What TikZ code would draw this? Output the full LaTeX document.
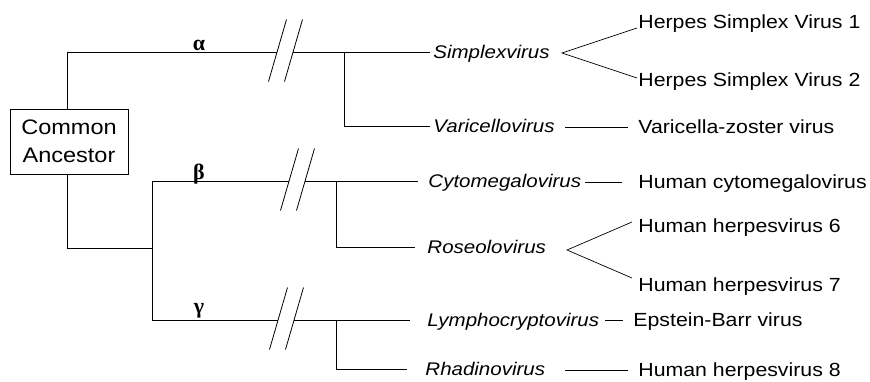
\documentclass[tikz,border=0pt]{standalone}
\usepackage{fontspec}
\setmainfont{Liberation Sans}[FakeStretch=1.12]
\newfontfamily\greekfont{Liberation Serif}
\begin{document}
\begin{tikzpicture}[x=1pt,y=-1pt,line width=0.9pt,
  lbl/.style={font=\fontsize{19}{22}\selectfont,anchor=west,inner xsep=3pt,inner ysep=0pt,text height=13.6pt,text depth=0pt},
  genus/.style={lbl,font=\fontsize{18.3}{22}\selectfont\itshape},
  greek/.style={font=\fontsize{22}{24}\selectfont\greekfont\bfseries,inner sep=0pt},
  ancbox/.style={draw,minimum width=118pt,minimum height=65pt,align=center,inner sep=0pt,font=\fontsize{21}{28}\selectfont},
  slash/.style={line width=0.8pt}]
\useasboundingbox (0,0) rectangle (870,381);

% root
\node[ancbox] (ca) at (69,141.5) {Common\\Ancestor};

% genus names
\node[genus] (simplex)   at (430,52)  {Simplexvirus};
\node[genus] (varicello) at (430,126) {Varicellovirus};
\node[genus] (cyto)      at (425,181) {Cytomegalovirus};
\node[genus] (roseolo)   at (424,247) {Roseolovirus};
\node[genus] (lympho)    at (424,320) {Lymphocryptovirus};
\node[genus] (rhadino)   at (422,369) {Rhadinovirus};

% species names
\node[lbl] (hsv1) at (635,22)  {Herpes Simplex Virus 1};
\node[lbl] (hsv2) at (635,80)  {Herpes Simplex Virus 2};
\node[lbl] (vzv)  at (635,127) {Varicella-zoster virus};
\node[lbl] (hcmv) at (635,182) {Human cytomegalovirus};
\node[lbl] (hhv6) at (635,226) {Human herpesvirus 6};
\node[lbl] (hhv7) at (635,285) {Human herpesvirus 7};
\node[lbl] (ebv)  at (630,320) {Epstein-Barr virus};
\node[lbl] (hhv8) at (635,370) {Human herpesvirus 8};

% subfamily labels
\node[greek,anchor=base]  (alpha) at (199,50)  {α};
\node[greek,anchor=base]  (beta)  at (199,179) {β};
\node[greek,anchor=south] (gamma) at (199,319) {γ};

% junction points of the tree
\coordinate (ra) at (67,52);
\coordinate (rb) at (67,248);
\coordinate (aL) at (277,52);
\coordinate (aR) at (293,52);
\coordinate (aj) at (344,52);
\coordinate (ak) at (344,126);
\coordinate (bt) at (152,181);
\coordinate (gb) at (152,320);
\coordinate (bL) at (289,181);
\coordinate (bR) at (305,181);
\coordinate (bj) at (336,181);
\coordinate (bk) at (336,247);
\coordinate (gL) at (278,320);
\coordinate (gR) at (294,320);
\coordinate (gj) at (336,320);
\coordinate (gk) at (336,369);

% alpha branch
\draw (ca.north -| ra) -- (ra) -- (aL);
\draw (aR) -- (simplex.west);
\draw (aj) -- (ak) -- (varicello.west);

% beta and gamma branches
\draw (ca.south -| rb) -- (rb) -- (rb -| bt);
\draw (bt) -- (gb);
\draw (bt) -- (bL);
\draw[shorten >=7pt] (bR) -- (cyto.west);
\draw[shorten >=9pt] (bj) -- (bk) -- (roseolo.west);
\draw (gb) -- (gL);
\draw[shorten >=14pt] (gR) -- (lympho.west);
\draw[shorten >=15pt] (gj) -- (gk) -- (rhadino.west);

% break marks
\foreach \c in {aL,aR,bL,bR,gL,gR}
  \draw[slash] ([shift={(-8.5,29.5)}]\c) -- ([shift={(9.5,-32.5)}]\c);

% genus to species
\coordinate (sTip) at (562,53);
\coordinate (s1) at (637,28);
\coordinate (s2) at (637,78);
\draw[line width=0.7pt] (s1) -- (sTip) -- (s2);
\coordinate (rTip) at (567,250);
\coordinate (r6) at (632,222);
\coordinate (r7) at (632,278);
\draw[line width=0.7pt] (r6) -- (rTip) -- (r7);

\coordinate (vl) at (565,127);
\draw[shorten >=7pt] (vl) -- (vzv.west);
\coordinate (cl) at (585,182);
\draw[shorten >=13pt] (cl) -- (hcmv.west);
\coordinate (ll) at (605,320);
\draw[shorten >=7pt] (ll) -- (ebv.west);
\coordinate (hl) at (565,370);
\draw[shorten >=7pt] (hl) -- (hhv8.west);
\end{tikzpicture}
\end{document}
